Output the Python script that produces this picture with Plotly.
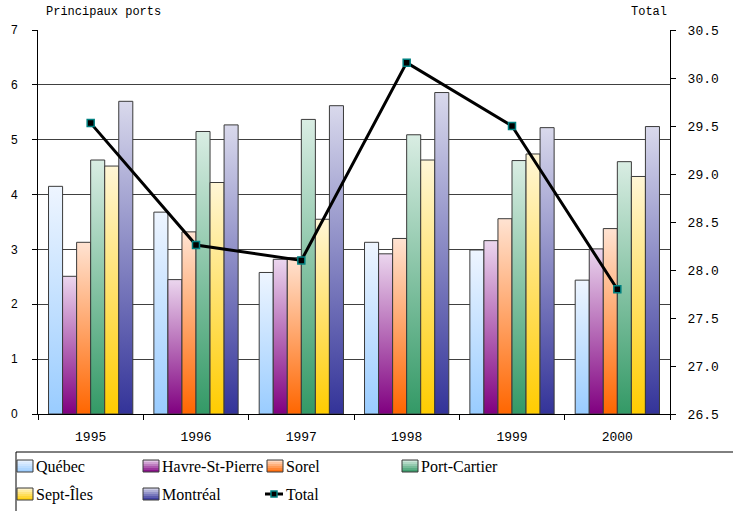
import plotly.graph_objects as go

# ---- data -------------------------------------------------------------
years = ["1995", "1996", "1997", "1998", "1999", "2000"]

quebec = [4.15, 3.68, 2.58, 3.13, 2.99, 2.44]
havre_st_pierre = [2.51, 2.45, 2.82, 2.92, 3.16, 3.01]
sorel = [3.13, 3.32, 2.85, 3.20, 3.56, 3.38]
port_cartier = [4.63, 5.15, 5.37, 5.09, 4.62, 4.60]
sept_iles = [4.52, 4.22, 3.55, 4.63, 4.74, 4.33]
montreal = [5.70, 5.27, 5.62, 5.86, 5.22, 5.24]
total = [29.53, 28.26, 28.10, 30.16, 29.50, 27.80]

series_names = ["Québec", "Havre-St-Pierre", "Sorel", "Port-Cartier", "Sept-Îles", "Montréal"]
series_values = [quebec, havre_st_pierre, sorel, port_cartier, sept_iles, montreal]

left_ticks = [0, 1, 2, 3, 4, 5, 6, 7]
right_ticks = [26.5, 27.0, 27.5, 28.0, 28.5, 29.0, 29.5, 30.0, 30.5]

# ---- styling ----------------------------------------------------------
# (bottom colour, top colour) of each series' vertical gradient
gradients = [
    ("#99CCFF", "#EEF5FF"),
    ("#800080", "#EBD6EE"),
    ("#FF6600", "#FFE3D2"),
    ("#339966", "#D9EDE3"),
    ("#FFCC00", "#FFF6D6"),
    ("#333399", "#D9D9EC"),
]
OUTLINE = "#3a3a3a"
MONO = "Liberation Mono"
SERIF = "Liberation Serif"

W, H = 733, 511
L, R, T, B = 38, 63, 30, 97
PW, PH = W - L - R, H - T - B

n_series = len(series_names)
gap_ratio = 1.5  # gap between groups, in bar widths
bar_w = 1.0 / (n_series + gap_ratio)

fig = go.Figure()

# ---- gradient bars (one filled polygon per bar) -----------------------
for s, (name, vals) in enumerate(zip(series_names, series_values)):
    lo, hi = gradients[s]
    for i, v in enumerate(vals):
        left = i - n_series * bar_w / 2 + s * bar_w
        right = left + bar_w
        fig.add_trace(go.Scatter(
            x=[left, left, right, right, left],
            y=[0, v, v, 0, 0],
            mode="lines",
            fill="toself",
            fillgradient=dict(type="vertical", colorscale=[[0, lo], [1, hi]]),
            line=dict(color=OUTLINE, width=1),
            name=name,
            showlegend=False,
            hoverinfo="skip",
            xaxis="x", yaxis="y",
        ))

# ---- total line on secondary axis -------------------------------------
fig.add_trace(go.Scatter(
    x=list(range(len(years))),
    y=total,
    mode="lines+markers",
    line=dict(color="black", width=3),
    marker=dict(symbol="square", size=7, color="black",
                line=dict(color="#008080", width=1.5)),
    name="Total",
    showlegend=False,
    xaxis="x", yaxis="y2",
))

# ---- helpers for pixel placement of decorations -----------------------
def px_x(px):
    return (px - L) / PW


def px_y(py):
    return (H - B - py) / PH


shapes = []
annotations = []

# legend frame
shapes.append(dict(type="rect", xref="paper", yref="paper",
                   x0=px_x(16), x1=px_x(745), y0=px_y(452), y1=px_y(520),
                   line=dict(color="black", width=1), fillcolor="white", layer="above"))


def mix(c1, c2, t):
    a = [int(c1[k:k + 2], 16) for k in (1, 3, 5)]
    b = [int(c2[k:k + 2], 16) for k in (1, 3, 5)]
    return "#" + "".join(f"{round(a[j] + (b[j] - a[j]) * t):02x}" for j in range(3))


col_x = [17, 143, 267, 402]
row_y = [466, 494]
sw_w, sw_h = 16, 12
for s, name in enumerate(series_names):
    r, c = divmod(s, 4)
    x0 = col_x[c]
    yc = row_y[r]
    top = yc - sw_h / 2
    bands = 6
    for k in range(bands):
        t = 1 - (k + 0.5) / bands
        lo, hi = gradients[s]
        shapes.append(dict(type="rect", xref="paper", yref="paper",
                           x0=px_x(x0), x1=px_x(x0 + sw_w),
                           y0=px_y(top + k * sw_h / bands),
                           y1=px_y(top + (k + 1) * sw_h / bands),
                           line=dict(width=0), fillcolor=mix(lo, hi, t), layer="above"))
    shapes.append(dict(type="rect", xref="paper", yref="paper",
                       x0=px_x(x0), x1=px_x(x0 + sw_w), y0=px_y(top), y1=px_y(top + sw_h),
                       line=dict(color=OUTLINE, width=1), fillcolor="rgba(0,0,0,0)", layer="above"))
    annotations.append(dict(x=px_x(x0 + sw_w + 1), y=px_y(yc), xref="paper", yref="paper",
                            text=name, showarrow=False, xanchor="left", yanchor="middle",
                            font=dict(family=SERIF, size=16, color="black")))

# Total entry: line with a square marker
tx0, ty = 265, row_y[1]
shapes.append(dict(type="line", xref="paper", yref="paper",
                   x0=px_x(tx0), x1=px_x(tx0 + 18), y0=px_y(ty), y1=px_y(ty),
                   line=dict(color="black", width=3), layer="above"))
shapes.append(dict(type="rect", xref="paper", yref="paper",
                   x0=px_x(tx0 + 6), x1=px_x(tx0 + 12), y0=px_y(ty - 3), y1=px_y(ty + 3),
                   line=dict(color="#008080", width=1.5), fillcolor="black", layer="above"))
annotations.append(dict(x=px_x(tx0 + 19), y=px_y(ty), xref="paper", yref="paper",
                        text="Total", showarrow=False, xanchor="left", yanchor="middle",
                        font=dict(family=SERIF, size=16, color="black")))

# axis titles at the top corners
annotations.append(dict(x=px_x(44), y=px_y(12), xref="paper", yref="paper",
                        text="Principaux ports", showarrow=False, xanchor="left", yanchor="middle",
                        font=dict(family=MONO, size=12, color="black")))
annotations.append(dict(x=px_x(669), y=px_y(12), xref="paper", yref="paper",
                        text="Total", showarrow=False, xanchor="right", yanchor="middle",
                        font=dict(family=MONO, size=12, color="black")))

fig.update_layout(
    width=W, height=H,
    margin=dict(l=L, r=R, t=T, b=B),
    paper_bgcolor="white",
    plot_bgcolor="white",
    showlegend=False,
    shapes=shapes,
    annotations=annotations,
    xaxis=dict(
        range=[-0.5, len(years) - 0.5],
        tickmode="array",
        tickvals=list(range(len(years))),
        ticktext=years,
        ticks="",
        ticklabelstandoff=10,
        showgrid=False,
        zeroline=False,
        showline=True, linecolor="black", linewidth=1,
        tickfont=dict(family=MONO, size=13, color="black"),
        minor=dict(tick0=0.5, dtick=1, ticks="outside", ticklen=5,
                   tickcolor="black", showgrid=False),
        fixedrange=True,
    ),
    yaxis=dict(
        range=[0, 7],
        tickmode="array",
        tickvals=left_ticks,
        ticks="outside", ticklen=5, tickcolor="black",
        ticklabelstandoff=12,
        showgrid=True, gridcolor="#404040", gridwidth=1,
        zeroline=False,
        showline=True, linecolor="black", linewidth=1,
        tickfont=dict(family="Liberation Sans", size=12, color="black"),
        fixedrange=True,
    ),
    yaxis2=dict(
        range=[26.5, 30.5],
        overlaying="y",
        side="right",
        anchor="x",
        tickmode="array",
        tickvals=right_ticks,
        ticktext=[f"{v:.1f}" for v in right_ticks],
        ticks="outside", ticklen=5, tickcolor="black",
        ticklabelstandoff=9,
        showgrid=False,
        zeroline=False,
        showline=True, linecolor="black", linewidth=1,
        tickfont=dict(family=MONO, size=13, color="black"),
        fixedrange=True,
    ),
)

fig.write_html("out.html")
